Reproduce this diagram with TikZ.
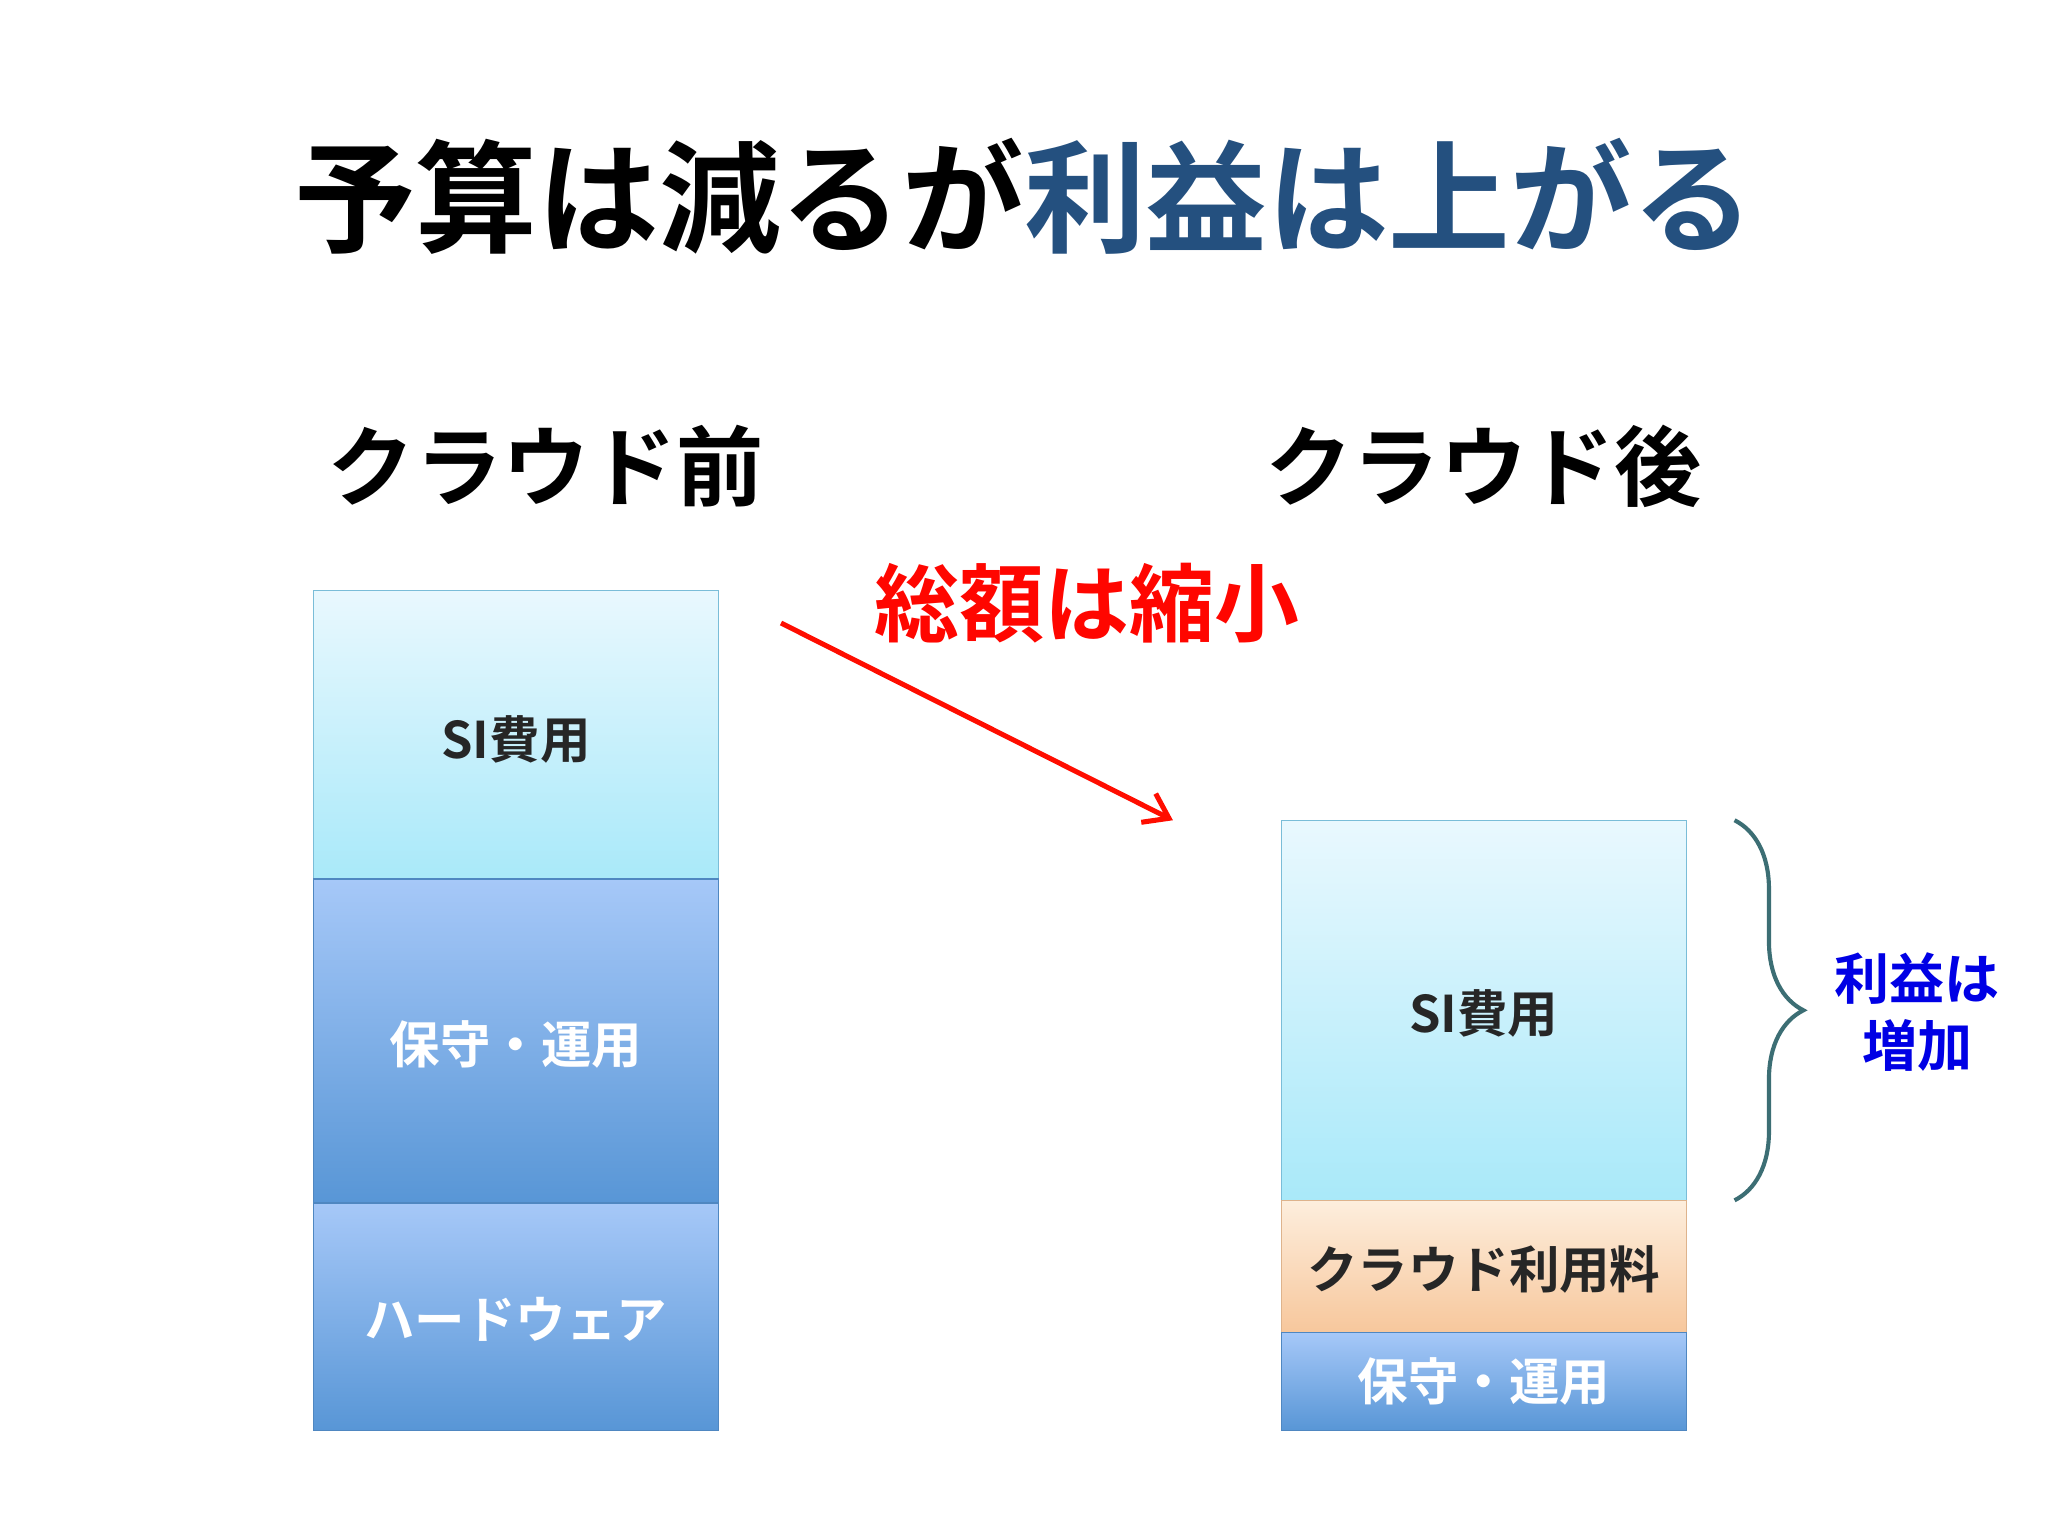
\documentclass[tikz,border=0pt]{standalone}
\usepackage{fontspec}
\setmainfont{Noto Sans CJK JP}[BoldFont={Noto Sans CJK JP Bold}]
\usetikzlibrary{decorations.pathreplacing,arrows.meta}
\definecolor{tblue}{HTML}{24507F}
\definecolor{cyT}{HTML}{E9F8FE}
\definecolor{cyB}{HTML}{A9E9F9}
\definecolor{blT}{HTML}{A6C8F8}
\definecolor{blB}{HTML}{5896D6}
\definecolor{orT}{HTML}{FDEEDD}
\definecolor{orB}{HTML}{F7C79C}
\definecolor{brc}{HTML}{3C6E74}
\begin{document}
\begin{tikzpicture}[x=0.02cm,y=-0.02cm,
  cyanbox/.style={draw=cyan!50!teal!60,line width=0.6pt,top color=cyT,bottom color=cyB},
  bluebox/.style={draw=blB!90!black,line width=0.6pt,top color=blT,bottom color=blB},
  orbox/.style={draw=orB!90!black,line width=0.6pt,top color=orT,bottom color=orB},
  dtxt/.style={font=\bfseries\fontsize{22}{26}\selectfont,text=black!85},
  wtxt/.style={font=\bfseries\fontsize{22}{26}\selectfont,text=white},
  head/.style={font=\bfseries\fontsize{38}{44}\selectfont}]
\useasboundingbox (0,0) rectangle (1568,1176);
\fill[white] (0,0) rectangle (1568,1176);
\node[font=\bfseries\fontsize{53}{60}\selectfont] (title) at (784,150) {予算は減るが\textcolor{tblue}{利益は上がる}};
\node[head] (h1) at (418,357) {クラウド前};
\node[head] (h2) at (1136,357) {クラウド後};
% left bar
\shade[cyanbox] (240,452) rectangle (550,673);
\shade[bluebox] (240,673) rectangle (550,921);
\shade[bluebox] (240,921) rectangle (550,1095);
\node[dtxt] (l1) at (395,566) {SI費用};
\node[wtxt] (l2) at (395,800) {保守・運用};
\node[wtxt] (l3) at (395,1010) {ハードウェア};
% right bar
\shade[cyanbox] (981,628) rectangle (1291,919);
\shade[orbox] (981,919) rectangle (1291,1020);
\shade[bluebox] (981,1020) rectangle (1291,1095);
\node[dtxt] (r1) at (1136,776) {SI費用};
\node[dtxt] (r2) at (1136,972) {クラウド利用料};
\node[wtxt] (r3) at (1136,1058) {保守・運用};
% arrow
\coordinate (as) at (598,477);
\coordinate (ae) at (898,628);
\draw[red!90!orange,line width=2.2pt,-{Straight Barb[length=10pt,width=14pt]}] (as) -- (ae);
\node[font=\bfseries\fontsize{37}{42}\selectfont,text=red!95!orange] (sum) at (832,462) {総額は縮小};
% brace
\coordinate (bt) at (1328,628);
\coordinate (bb) at (1328,919);
\draw[brc,line width=1.8pt,decorate,decoration={brace,amplitude=30}] (bt) -- (bb);
\node[font=\bfseries\fontsize{24}{29}\selectfont,text=blue!90!black,align=center] (gain) at (1468,775) {利益は\\増加};
\end{tikzpicture}
\end{document}
